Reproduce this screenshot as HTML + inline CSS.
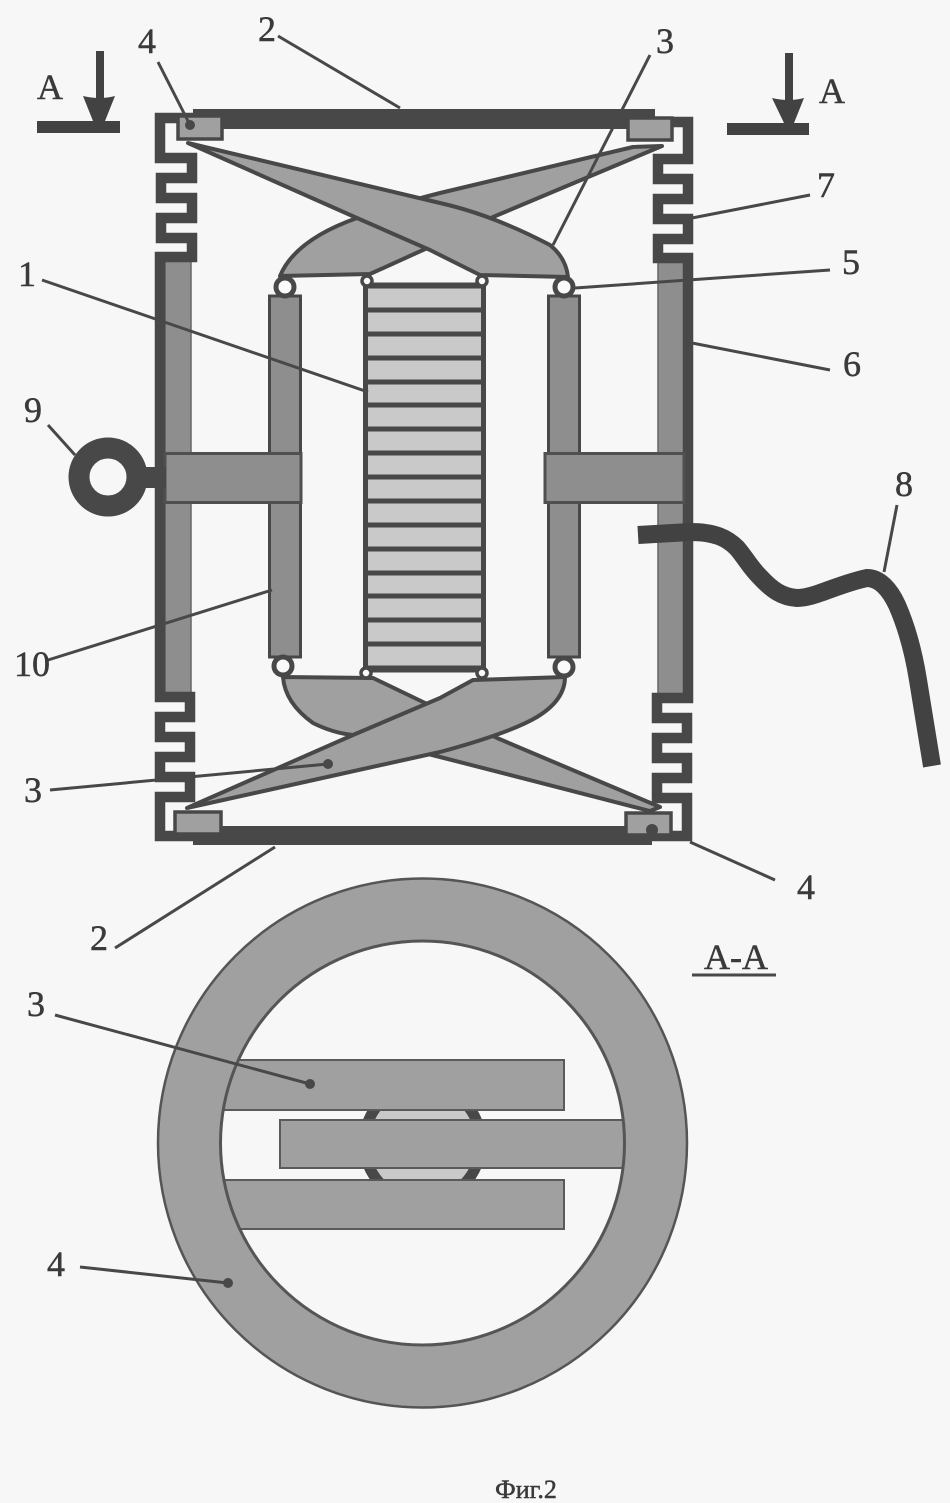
<!DOCTYPE html>
<html><head><meta charset="utf-8"><title>Фиг.2</title>
<style>html,body{margin:0;padding:0;background:#f7f7f7}svg{display:block}
text{font-family:"Liberation Serif",serif;fill:#3a3a3a;text-anchor:middle;stroke:#3a3a3a;stroke-width:.5}</style></head>
<body>
<svg width="950" height="1503" viewBox="0 0 950 1503" xmlns="http://www.w3.org/2000/svg">
<defs><clipPath id="ci"><circle cx="422.5" cy="1143" r="201"/></clipPath></defs>
<rect width="950" height="1503" fill="#f7f7f7"/>

<!-- outer bars -->
<rect x="165" y="260" width="26" height="434" fill="#8e8e8e" stroke="#666" stroke-width="1.5"/>
<rect x="658" y="260" width="26" height="434" fill="#8e8e8e" stroke="#666" stroke-width="1.5"/>

<!-- frame -->
<g fill="none" stroke="#484848" stroke-width="10.500" stroke-linejoin="miter">
<polyline points="195,118 160,118 160,158 192,158 192,178 161,178 161,198 192,198 192,218 161,218 161,238 192,238 192,257 160,257 160,697 190,697 190,717 160,717 160,737 190,737 190,757 160,757 160,777 190,777 190,797 160,797 160,836 687,836 687,798 657,798 657,778 687,778 687,758 657,758 657,738 687,738 687,718 657,718 657,698 688,698 688,258 658,258 658,239 688,239 688,219 658,219 658,199 688,199 688,179 658,179 658,159 688,159 688,122 650,122"/>
</g>
<!-- plates -->
<rect x="193" y="109" width="462" height="10" fill="#484848"/>
<rect x="218" y="117" width="412" height="12" fill="#484848"/>
<rect x="218" y="826" width="412" height="12" fill="#484848"/>
<rect x="193" y="838" width="459" height="7" fill="#484848"/>

<!-- inner bars and cross bars -->
<rect x="269.5" y="296" width="31" height="361" fill="#8e8e8e" stroke="#484848" stroke-width="3"/>
<rect x="548.5" y="296" width="31" height="361" fill="#8e8e8e" stroke="#484848" stroke-width="3"/>
<rect x="165" y="453.500" width="136" height="49" fill="#8e8e8e" stroke="#505050" stroke-width="3"/>
<rect x="545" y="453.500" width="139" height="49" fill="#8e8e8e" stroke="#505050" stroke-width="3"/>

<!-- core -->
<rect x="365.500" y="285" width="118" height="385" fill="#c9c9c9" stroke="#484848" stroke-width="5"/>
<g stroke="#484848" stroke-width="5">
<line x1="365" x2="484" y1="286" y2="286"/><line x1="365" x2="484" y1="310" y2="310"/><line x1="365" x2="484" y1="334" y2="334"/><line x1="365" x2="484" y1="358" y2="358"/><line x1="365" x2="484" y1="382" y2="382"/><line x1="365" x2="484" y1="405" y2="405"/><line x1="365" x2="484" y1="429" y2="429"/><line x1="365" x2="484" y1="453" y2="453"/><line x1="365" x2="484" y1="477" y2="477"/><line x1="365" x2="484" y1="501" y2="501"/><line x1="365" x2="484" y1="525" y2="525"/><line x1="365" x2="484" y1="549" y2="549"/><line x1="365" x2="484" y1="573" y2="573"/><line x1="365" x2="484" y1="596" y2="596"/><line x1="365" x2="484" y1="620" y2="620"/><line x1="365" x2="484" y1="644" y2="644"/><line x1="365" x2="484" y1="668" y2="668"/>
</g>

<!-- blades -->
<g fill="#a0a0a0" stroke="#484848" stroke-width="4" stroke-linejoin="round">
<path d="M662,146 L633,147 L440,193 Q400,203 357,218 Q295,240 280,276 L370,274 L423,250 L493,217 Z"/>
<path d="M188,143 L440,203 Q493,215 550,245 Q566,258 568,277 L480,275 L430,250 L357,218 Z"/>
<path d="M660,807 L497,738 L423,702 L373,678 L283,677 Q285,703 313,723 Q333,733 353,735 L440,757 L650,811 Z"/>
<path d="M187,808 L353,735 L440,698 L473,680 L565,677 Q565,700 537,717 Q510,733 440,752 L300,783 Z"/>
</g>

<!-- blocks -->
<g fill="#a0a0a0" stroke="#484848" stroke-width="3.500">
<rect x="178" y="116" width="44" height="23"/>
<rect x="628" y="118" width="44" height="22"/>
<rect x="175" y="812" width="46" height="22"/>
<rect x="626" y="813" width="45" height="22"/>
</g>

<!-- hinges -->
<g fill="#fafafa" stroke="#484848">
<circle cx="285" cy="287" r="9" stroke-width="5"/>
<circle cx="564" cy="287" r="9" stroke-width="5"/>
<circle cx="283" cy="666" r="9" stroke-width="5"/>
<circle cx="564" cy="667" r="9" stroke-width="5"/>
<circle cx="367" cy="281" r="5" stroke-width="3.500"/>
<circle cx="482" cy="281" r="5" stroke-width="3.500"/>
<circle cx="366" cy="673" r="5" stroke-width="3.500"/>
<circle cx="482" cy="673" r="5" stroke-width="3.500"/>
</g>

<!-- ring 9 -->
<rect x="146" y="467" width="20" height="21" fill="#484848"/>
<circle cx="108" cy="477" r="29" fill="none" stroke="#484848" stroke-width="21"/>

<!-- wire 8 -->
<path d="M638,535 L690,532 C715,532 727,538 737,548 C747,560 750,567 760,577 C772,590 782,597 797,598 C815,598 835,585 867,578 C880,578 890,590 897,605 C908,630 914,655 918,680 C923,710 928,740 932,766" fill="none" stroke="#424242" stroke-width="18"/>

<!-- leaders -->
<g stroke="#484848" stroke-width="3" fill="none">
<line x1="278" y1="36" x2="400" y2="108"/>
<line x1="158" y1="62" x2="190" y2="125"/>
<line x1="650" y1="55" x2="553" y2="245"/>
<line x1="810" y1="195" x2="692" y2="218"/>
<line x1="830" y1="270" x2="575" y2="288"/>
<line x1="830" y1="370" x2="692" y2="343"/>
<line x1="42" y1="280" x2="368" y2="392"/>
<line x1="48" y1="425" x2="75" y2="455"/>
<line x1="897" y1="505" x2="884" y2="572"/>
<line x1="48" y1="660" x2="272" y2="590"/>
<line x1="50" y1="790" x2="328" y2="764"/>
<line x1="775" y1="880" x2="690" y2="842"/>
<line x1="115" y1="948" x2="275" y2="847"/>
</g>
<circle cx="190" cy="125" r="5" fill="#484848"/>
<circle cx="328" cy="764" r="5" fill="#484848"/>
<circle cx="652" cy="830" r="6" fill="#484848"/>

<!-- section arrows -->
<rect x="37" y="121" width="83" height="12" fill="#424242"/>
<rect x="727" y="123" width="82" height="12" fill="#424242"/>
<g fill="#424242">
<rect x="96" y="51" width="8" height="48"/>
<path d="M83,96 Q100,100 115,96 L105,121 L93,121 Z"/>
<rect x="785" y="53" width="8" height="48"/>
<path d="M772,98 Q789,102 804,98 L794,123 L784,123 Z"/>
</g>

<!-- section A-A -->
<circle cx="422.5" cy="1143" r="233.500" fill="none" stroke="#a0a0a0" stroke-width="63"/>
<circle cx="422.500" cy="1143" r="264.500" fill="none" stroke="#555" stroke-width="2.500"/>
<circle cx="422.500" cy="1143" r="58.500" fill="#c9c9c9" stroke="#484848" stroke-width="11"/>
<g clip-path="url(#ci)" fill="#a0a0a0" stroke="#5a5a5a" stroke-width="2">
<rect x="200" y="1060" width="364" height="50"/>
<rect x="280" y="1120" width="360" height="48"/>
<rect x="200" y="1180" width="364" height="49"/>
</g>
<circle cx="422.500" cy="1143" r="202" fill="none" stroke="#555" stroke-width="3"/>
<g stroke="#484848" stroke-width="3" fill="none">
<line x1="55" y1="1015" x2="310" y2="1084"/>
<line x1="80" y1="1267" x2="228" y2="1283"/>
<line x1="692" y1="975" x2="776" y2="975"/>
</g>
<circle cx="310" cy="1084" r="5" fill="#484848"/>
<circle cx="228" cy="1283" r="5" fill="#484848"/>

<!-- labels -->
<g font-size="36">
<text x="267" y="41">2</text>
<text x="147" y="53">4</text>
<text x="665" y="53">3</text>
<text x="50" y="99">А</text>
<text x="832" y="103">А</text>
<text x="826" y="197">7</text>
<text x="851" y="274">5</text>
<text x="852" y="376">6</text>
<text x="27" y="286">1</text>
<text x="33" y="422">9</text>
<text x="904" y="496">8</text>
<text x="32" y="676">10</text>
<text x="33" y="802">3</text>
<text x="806" y="899">4</text>
<text x="99" y="950">2</text>
<text x="736" y="969">А-А</text>
<text x="36" y="1016">3</text>
<text x="56" y="1276">4</text>
</g>
<text x="526" y="1498" font-size="26">Фиг.2</text>
</svg>
</body></html>
